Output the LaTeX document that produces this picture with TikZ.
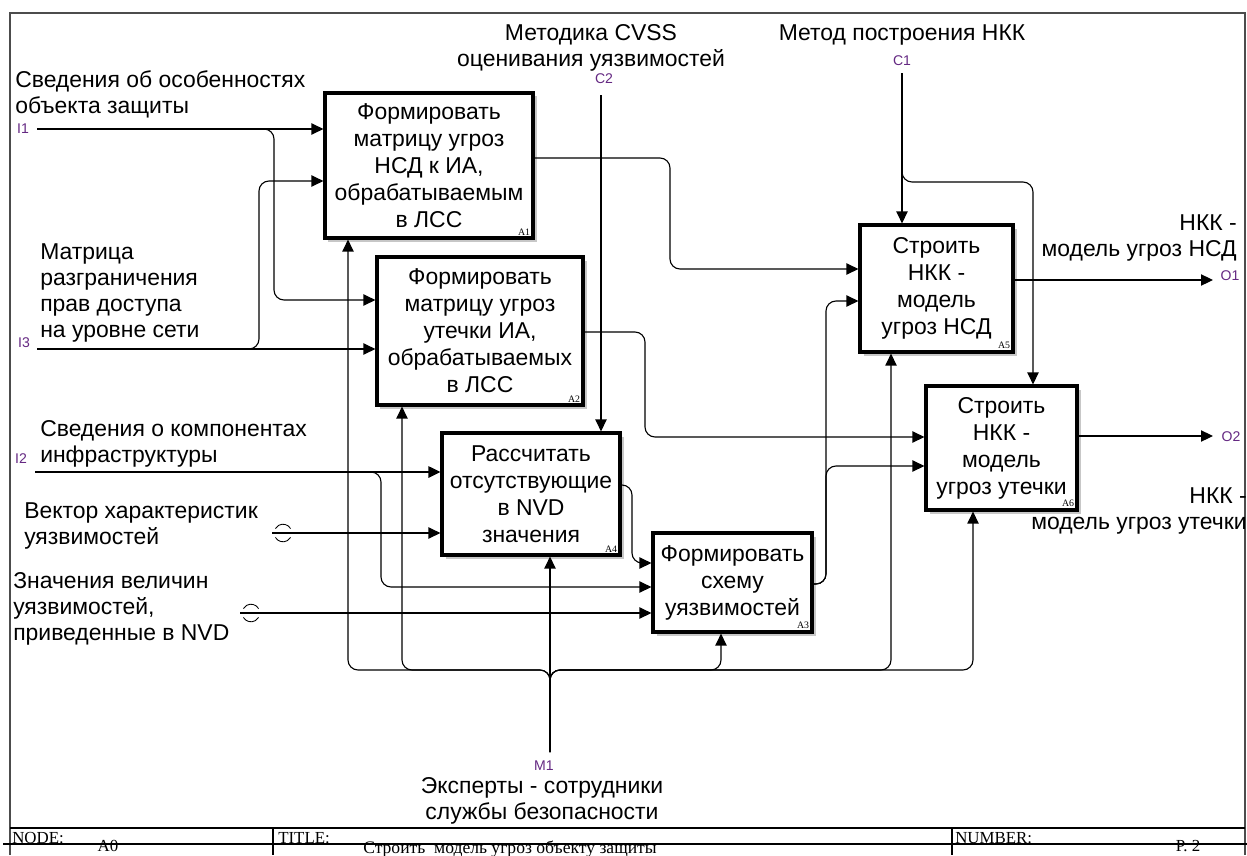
\documentclass[tikz,border=0pt]{standalone}
\usepackage{fontspec}
\setmainfont{Liberation Sans}
\newfontfamily\serifft{Liberation Serif}
\usetikzlibrary{arrows.meta,shadows}
\definecolor{codecol}{RGB}{100,40,130}
\tikzset{
 func/.style={draw,line width=2.2pt,fill=white,align=center,inner sep=0pt,
   font=\fontsize{16.3}{19.2}\selectfont,
   drop shadow={shadow xshift=2.5pt,shadow yshift=-2.5pt,fill=black!22,opacity=1}},
 num/.style={font=\serifft\fontsize{7}{8}\selectfont,inner sep=0pt,anchor=south east,
   xshift=-3pt,yshift=3pt},
 arr/.style={line width=0.8pt,rounded corners=0.25cm,-{Triangle[length=8.5pt,width=8pt]}},
 lbl/.style={font=\fontsize{16.3}{18.5}\selectfont,inner sep=0pt},
 code/.style={font=\fontsize{10}{12}\selectfont,text=codecol,inner sep=0pt},
 foot/.style={font=\serifft\fontsize{12}{14}\selectfont,inner sep=0pt}
}
\begin{document}
\begin{tikzpicture}[x=0.025cm,y=-0.025cm]
\useasboundingbox (0,0) rectangle (1247,855);
% frame and title block
\draw[line width=1.2pt,black!70] (10,855) -- (10,13) -- (1245,13) -- (1245,855);
\draw[line width=1.5pt] (10,828) -- (1245,828);
\draw[line width=0.8pt] (3,844) -- (1247,844);
\draw[line width=1.5pt] (273,828) -- (273,855) (952,828) -- (952,855);
\node[foot,anchor=west] (fnode) at (12,838) {NODE:};
\node[foot] (fa0) at (108,846) {A0};
\node[foot,anchor=west] (ftitle) at (278,838) {TITLE:};
\node[foot,font=\serifft\fontsize{12.5}{14}\selectfont] (fname) at (510,849) {Строить\ \ модель угроз объекту защиты};
\node[foot,anchor=west] (fnum) at (955,838) {NUMBER:};
\node[foot] (fpage) at (1188,846) {P. 2};

% function boxes
\node[func,minimum width=5.2cm,minimum height=3.625cm] (a1) at (429,165.5)
  {Формировать\\матрицу угроз\\НСД к ИА,\\обрабатываемым\\в ЛСС};
\node[num] (a1n) at (a1.south east) {A1};
\node[func,minimum width=5.15cm,minimum height=3.7cm] (a2) at (480,331)
  {Формировать\\матрицу угроз\\утечки ИА,\\обрабатываемых\\в ЛСС};
\node[num] (a2n) at (a2.south east) {A2};
\node[func,minimum width=4.45cm,minimum height=3.05cm] (a4) at (531,494)
  {Рассчитать\\отсутствующие\\в NVD\\значения};
\node[num] (a4n) at (a4.south east) {A4};
\node[func,minimum width=3.975cm,minimum height=2.475cm] (a3) at (732.5,582.5)
  {Формировать\\схему\\уязвимостей};
\node[num] (a3n) at (a3.south east) {A3};
\node[func,minimum width=3.825cm,minimum height=3.175cm] (a5) at (936.5,288.5)
  {Строить\\НКК -\\модель\\угроз НСД};
\node[num] (a5n) at (a5.south east) {A5};
\node[func,minimum width=3.775cm,minimum height=3.1cm] (a6) at (1001.5,448)
  {Строить\\НКК -\\модель\\угроз утечки};
\node[num] (a6n) at (a6.south east) {A6};

% free ends
\coordinate (i1) at (37,129);
\coordinate (i3) at (37,349);
\coordinate (i2) at (35,472);
\coordinate (v0) at (272,533);
\coordinate (vt) at (283,533);
\coordinate (n0) at (240,613);
\coordinate (nt) at (251,613);
\coordinate (c1) at (902,73);
\coordinate (c2) at (601,95);
\coordinate (m1) at (550,752);
\coordinate (o1) at (1213,280);
\coordinate (o2) at (1213,436);

% inputs
\draw[arr] (i1) -- (i1 -| a1.west);
\draw[arr] (i1) -- (274,129) -- (274,300) -- (274,300 -| a2.west);
\draw[arr] (i3) -- (i3 -| a2.west);
\draw[arr] (i3) -- (259,349) -- (259,181) -- (259,181 -| a1.west);
\draw[arr,line width=1.3pt] (i2) -- (i2 -| a4.west);
\draw[arr] (i2) -- (381,472) -- (381,587) -- (381,587 -| a3.west);
\draw[arr] (v0) -- (v0 -| a4.west);
\draw[arr] (n0) -- (n0 -| a3.west);
% tunnels
\draw[line width=0.6pt] ([shift={(30:0.22cm)}]vt) arc[start angle=30,end angle=150,radius=0.22cm];
\draw[line width=0.6pt] ([shift={(210:0.22cm)}]vt) arc[start angle=210,end angle=330,radius=0.22cm];
\draw[line width=0.6pt] ([shift={(30:0.22cm)}]nt) arc[start angle=30,end angle=150,radius=0.22cm];
\draw[line width=0.6pt] ([shift={(210:0.22cm)}]nt) arc[start angle=210,end angle=330,radius=0.22cm];

% box to box
\draw[arr] (a4.east |- 0,485) -- (632,485) -- (632,563) -- (632,563 -| a3.west);
\draw[arr] (a1.east |- 0,158) -- (670,158) -- (670,269) -- (670,269 -| a5.west);
\draw[arr] (a2.east |- 0,332) -- (645,332) -- (645,437) -- (645,437 -| a6.west);
\draw[arr] (a3.east |- 0,584) -- (826,584) -- (826,301) -- (826,301 -| a5.west);
\draw[arr] (a3.east |- 0,584) -- (826,584) -- (826,466) -- (826,466 -| a6.west);

% outputs
\draw[arr] (a5.east |- 0,280) -- (o1);
\draw[arr] (a6.east |- 0,436) -- (o2);

% controls
\draw[arr] (c1) -- (c1 |- a5.north);
\draw[arr] (c1) -- (902,182) -- (1033,182) -- (1033,182 |- a6.north);
\draw[arr] (c2) -- (c2 |- a4.north);

% mechanism
\draw[arr] (m1) -- (m1 |- a4.south);
\foreach \x/\b in {348/a1,402/a2,721/a3,891/a5,973/a6}
  \draw[arr] (m1) -- (550,670) -- (\x,670) -- (\x,670 |- \b.south);

% arrow texts
\node[lbl,anchor=north west,align=left] (ti1) at (15,70) {Сведения об особенностях\\объекта защиты};
\node[lbl,anchor=north west,align=left] (ti3) at (40,243) {Матрица\\разграничения\\прав доступа\\на уровне сети};
\node[lbl,anchor=north west,align=left] (ti2) at (40,420) {Сведения о компонентах\\инфраструктуры};
\node[lbl,anchor=north west,align=left] (tv) at (24,502) {Вектор характеристик\\уязвимостей};
\node[lbl,anchor=north west,align=left] (tn) at (13,572) {Значения величин\\уязвимостей,\\приведенные в NVD};
\node[lbl,anchor=north,align=center] (tc2) at (591,24) {Методика CVSS\\оценивания уязвимостей};
\node[lbl,anchor=north,align=center] (tc1) at (902,24) {Метод построения НКК};
\node[lbl,anchor=north east,align=right] (to1) at (1237,214) {НКК -\\модель угроз НСД};
\node[lbl,anchor=north east,align=right] (to2) at (1247,487) {НКК -\\модель угроз утечки};
\node[lbl,anchor=north,align=center] (tm1) at (542,777) {Эксперты - сотрудники\\службы безопасности};

% ICOM codes
\node[code] (ki1) at (23,129) {I1};
\node[code] (ki3) at (24,343) {I3};
\node[code] (ki2) at (21,459) {I2};
\node[code] (kc2) at (604,79) {C2};
\node[code] (kc1) at (902,61) {C1};
\node[code] (ko1) at (1230,276) {O1};
\node[code] (ko2) at (1231,437) {O2};
\node[code] (km1) at (544,766) {M1};
\end{tikzpicture}
\end{document}
